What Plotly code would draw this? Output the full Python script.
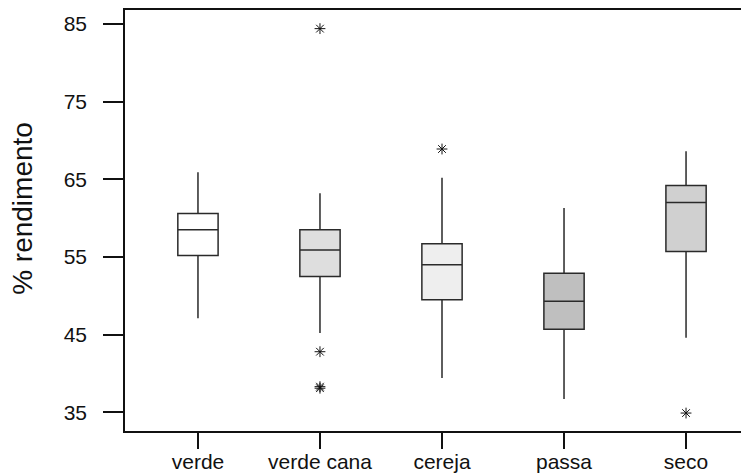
import plotly.graph_objects as go

categories = ["verde", "verde cana", "cereja", "passa", "seco"]
lower_whisker = [47.1, 45.2, 39.4, 36.7, 44.6]
q1_values = [55.2, 52.5, 49.5, 45.7, 55.7]
medians = [58.5, 55.9, 54.0, 49.3, 62.0]
q3_values = [60.6, 58.5, 56.7, 52.9, 64.2]
upper_whisker = [65.9, 63.2, 65.2, 61.3, 68.6]
fill_colors = ["#ffffff", "#dedede", "#eeeeee", "#bfbfbf", "#d0d0d0"]

outlier_cats = ["verde cana", "verde cana", "verde cana", "verde cana", "cereja", "seco"]
outlier_vals = [84.4, 42.8, 38.3, 38.1, 68.9, 34.9]

y_ticks = [35, 45, 55, 65, 75, 85]

fig = go.Figure()
for i, cat in enumerate(categories):
    fig.add_trace(go.Box(
        x=[cat],
        q1=[q1_values[i]], median=[medians[i]], q3=[q3_values[i]],
        lowerfence=[lower_whisker[i]], upperfence=[upper_whisker[i]],
        fillcolor=fill_colors[i],
        line=dict(color="#2a2a2a", width=1.5),
        width=0.33,
        whiskerwidth=0,
        boxpoints=False,
        showlegend=False,
        hoverinfo="skip",
    ))

fig.add_trace(go.Scatter(
    x=outlier_cats, y=outlier_vals, mode="markers",
    marker=dict(symbol="asterisk-open", size=9, color="#111111",
                line=dict(color="#111111", width=1)),
    showlegend=False, hoverinfo="skip",
))

fig.add_annotation(
    text="% rendimento", xref="paper", yref="paper",
    x=-0.1635, y=0.53, xanchor="center", yanchor="middle",
    textangle=-90, showarrow=False,
    font=dict(size=28, color="#111111"),
)

fig.update_layout(
    width=741, height=466,
    margin=dict(l=117, r=0, t=2, b=43),
    paper_bgcolor="white", plot_bgcolor="white",
    font=dict(family="Liberation Sans, Arial, sans-serif", size=21, color="#111111"),
    xaxis=dict(
        type="category", categoryorder="array", categoryarray=categories,
        range=[-0.598, 4.516],
        showline=True, linecolor="#111111", linewidth=1.5, mirror=True,
        ticks="outside", ticklen=16, tickwidth=1.5, tickcolor="#111111",
        ticklabelstandoff=-5,
        showgrid=False, zeroline=False, automargin=False,
        tickfont=dict(size=21),
    ),
    yaxis=dict(
        range=[32.59, 86.8],
        tickvals=y_ticks, ticktext=[str(v) for v in y_ticks],
        showline=True, linecolor="#111111", linewidth=1.5, mirror=False,
        ticks="outside", ticklen=20, tickwidth=1.5, tickcolor="#111111",
        ticklabelstandoff=12,
        showgrid=False, zeroline=False, automargin=False,
        tickfont=dict(size=21),
    ),
)

fig.write_html("out.html")
